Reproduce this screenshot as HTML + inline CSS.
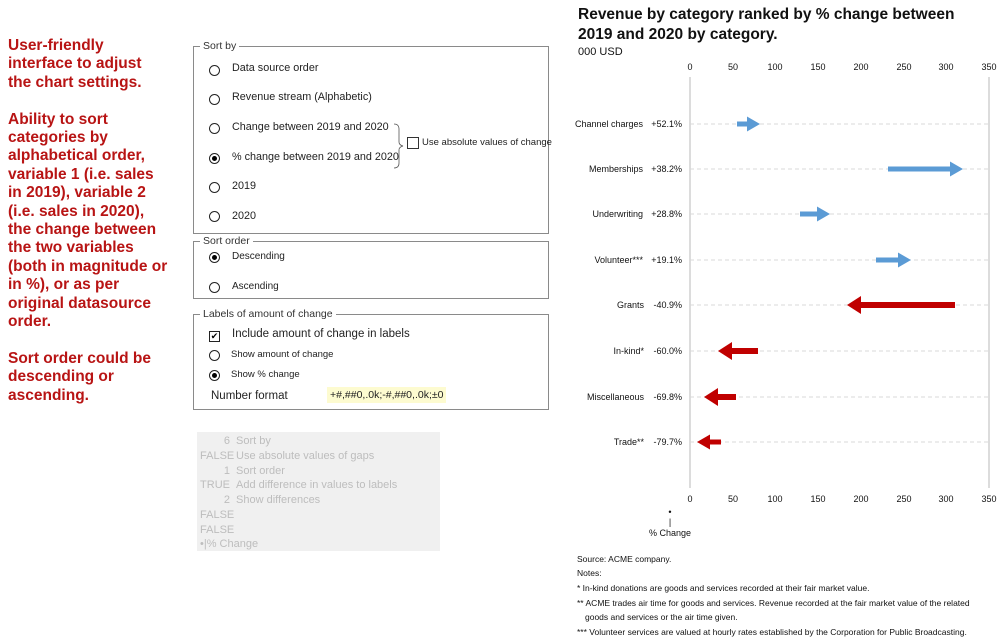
<!DOCTYPE html>
<html><head><meta charset="utf-8"><style>
body{margin:0;width:1005px;height:644px;background:#fff;position:relative;overflow:hidden;font-family:"Liberation Sans",sans-serif}
.a{position:absolute;white-space:nowrap}
.red{color:#b81414;font-weight:bold;font-size:15.5px;line-height:18.4px;left:8px;top:37px}
.box{position:absolute;border:1px solid #8a8a8a}
.leg{position:absolute;background:#fff;font-size:10.5px;color:#333;padding:0 3px;top:-7px;left:6px}
.t{position:absolute;font-size:10.8px;color:#222;white-space:nowrap}
.rad{position:absolute;width:9px;height:9px;border:1px solid #222;border-radius:50%}
.rad.on::after{content:"";position:absolute;left:2px;top:2px;width:5px;height:5px;border-radius:50%;background:#000}
.gray{position:absolute;left:197px;top:432px;width:243px;height:119px;background:#f0f0f0;color:#bdbdbd;font-size:11px;line-height:14.8px}
</style></head><body>
<div class="a red">User-friendly<br>interface to adjust<br>the chart settings.<br><br>Ability to sort<br>categories by<br>alphabetical order,<br>variable 1 (i.e. sales<br>in 2019), variable 2<br>(i.e. sales in 2020),<br>the change between<br>the two variables<br>(both in magnitude or<br>in %), or as per<br>original datasource<br>order.<br><br>Sort order could be<br>descending or<br>ascending.</div>

<div class="box" style="left:193px;top:46px;width:354px;height:186px">
<div class="leg">Sort by</div>
<div class="rad" style="left:15px;top:18px"></div><div class="t" style="left:38px;top:15px">Data source order</div>
<div class="rad" style="left:15px;top:47px"></div><div class="t" style="left:38px;top:44px">Revenue stream (Alphabetic)</div>
<div class="rad" style="left:15px;top:76px"></div><div class="t" style="left:38px;top:74px">Change between 2019 and 2020</div>
<div class="rad on" style="left:15px;top:106px"></div><div class="t" style="left:38px;top:104px">% change between 2019 and 2020</div>
<div class="rad" style="left:15px;top:135px"></div><div class="t" style="left:38px;top:133px">2019</div>
<div class="rad" style="left:15px;top:164px"></div><div class="t" style="left:38px;top:163px">2020</div>
<svg style="position:absolute;left:198px;top:76px" width="20" height="46"><path d="M2 1 Q7 1 7 6 L7 19 Q7 22 11 23 Q7 24 7 27 L7 40 Q7 45 2 45" fill="none" stroke="#555" stroke-width="0.8"/></svg>
<div style="position:absolute;left:213px;top:90px;width:10px;height:10px;border:1px solid #333"></div>
<div class="t" style="left:228px;top:90px;font-size:9.5px">Use absolute values of change</div>
</div>

<div class="box" style="left:193px;top:241px;width:354px;height:56px">
<div class="leg">Sort order</div>
<div class="rad on" style="left:15px;top:10px"></div><div class="t" style="left:38px;top:9px;font-size:10px">Descending</div>
<div class="rad" style="left:15px;top:40px"></div><div class="t" style="left:38px;top:39px;font-size:10px">Ascending</div>
</div>

<div class="box" style="left:193px;top:314px;width:354px;height:94px">
<div class="leg">Labels of amount of change</div>
<div style="position:absolute;left:15px;top:16px;width:9px;height:9px;border:1px solid #222;font-size:9px;line-height:9px;text-align:center">✔</div>
<div class="t" style="left:38px;top:13px;font-size:11.5px">Include amount of change in labels</div>
<div class="rad" style="left:15px;top:35px"></div><div class="t" style="left:37px;top:34px;font-size:9.5px">Show amount of change</div>
<div class="rad on" style="left:15px;top:55px"></div><div class="t" style="left:37px;top:54px;font-size:9.5px">Show % change</div>
<div class="t" style="left:17px;top:75px;font-size:11.5px">Number format</div>
<div class="t" style="left:133px;top:72px;background:#fdfbd0;padding:2px 3px;font-size:10.5px">+#,##0,.0k;-#,##0,.0k;±0</div>
</div>

<div class="gray">
<div style="position:absolute;left:3px;top:2px;width:30px;text-align:right">6<br>FALSE<br>1<br>TRUE<br>2<br>FALSE<br>FALSE</div>
<div style="position:absolute;left:39px;top:2px">Sort by<br>Use absolute values of gaps<br>Sort order<br>Add difference in values to labels<br>Show differences</div>
<div style="position:absolute;left:3px;top:105px">•|% Change</div>
</div>

<div class="a" style="left:578px;top:5px;font-size:15.5px;font-weight:bold;line-height:20px;color:#111">Revenue by category ranked by % change between<br>2019 and 2020 by category.</div>
<div class="a" style="left:578px;top:46px;font-size:11px;color:#111">000 USD</div>

<svg class="a" style="left:0;top:0" width="1005" height="644" font-family="Liberation Sans, sans-serif" font-size="9" fill="#111">
<g stroke="#d0d0d0" stroke-width="1.5"><line x1="690" y1="77" x2="690" y2="488"/><line x1="989" y1="77" x2="989" y2="488"/></g>
<g text-anchor="middle">
<text x="690" y="70">0</text><text x="733" y="70">50</text><text x="775" y="70">100</text><text x="818" y="70">150</text><text x="861" y="70">200</text><text x="904" y="70">250</text><text x="946" y="70">300</text><text x="989" y="70">350</text>
<text x="690" y="502">0</text><text x="733" y="502">50</text><text x="775" y="502">100</text><text x="818" y="502">150</text><text x="861" y="502">200</text><text x="904" y="502">250</text><text x="946" y="502">300</text><text x="989" y="502">350</text>
<text x="670" y="515">•</text><text x="670" y="525">|</text><text x="670" y="536">% Change</text>
</g>
<g stroke="#d8d8d8" stroke-dasharray="4,3">
<line x1="690" y1="124" x2="989" y2="124"/><line x1="690" y1="169" x2="989" y2="169"/><line x1="690" y1="214" x2="989" y2="214"/><line x1="690" y1="260" x2="989" y2="260"/><line x1="690" y1="305" x2="989" y2="305"/><line x1="690" y1="351" x2="989" y2="351"/><line x1="690" y1="397" x2="989" y2="397"/><line x1="690" y1="442" x2="989" y2="442"/>
</g>
<g text-anchor="end">
<text x="643" y="127">Channel charges</text><text x="682" y="127">+52.1%</text>
<text x="643" y="172">Memberships</text><text x="682" y="172">+38.2%</text>
<text x="643" y="217">Underwriting</text><text x="682" y="217">+28.8%</text>
<text x="643" y="263">Volunteer***</text><text x="682" y="263">+19.1%</text>
<text x="644" y="308">Grants</text><text x="682" y="308">-40.9%</text>
<text x="644" y="354">In-kind*</text><text x="682" y="354">-60.0%</text>
<text x="644" y="400">Miscellaneous</text><text x="682" y="400">-69.8%</text>
<text x="644" y="445">Trade**</text><text x="682" y="445">-79.7%</text>
</g>
<g fill="#5b9bd5">
<path d="M737 121.5h10v-5l13 7.5-13 7.5v-5h-10z"/>
<path d="M888 166.5h62v-5l13 7.5-13 7.5v-5h-62z"/>
<path d="M800 211.5h17v-5l13 7.5-13 7.5v-5h-17z"/>
<path d="M876 257.5h22v-5l13 7.5-13 7.5v-5h-22z"/>
</g>
<g fill="#c00000">
<path d="M955 302h-94v-6l-14 9 14 9v-6h94z"/>
<path d="M758 348h-26v-6l-14 9 14 9v-6h26z"/>
<path d="M736 394h-18v-6l-14 9 14 9v-6h18z"/>
<path d="M721 439.5h-11v-5l-13 7.5 13 7.5v-5h11z"/>
</g>
<g font-size="8.5">
<text x="577" y="562">Source: ACME company.</text>
<text x="577" y="576">Notes:</text>
<text x="577" y="591">* In-kind donations are goods and services recorded at their fair market value.</text>
<text x="577" y="606">** ACME trades air time for goods and services. Revenue recorded at the fair market value of the related</text>
<text x="585" y="620">goods and services or the air time given.</text>
<text x="577" y="635">*** Volunteer services are valued at hourly rates established by the Corporation for Public Broadcasting.</text>
</g>
</svg>
</body></html>
